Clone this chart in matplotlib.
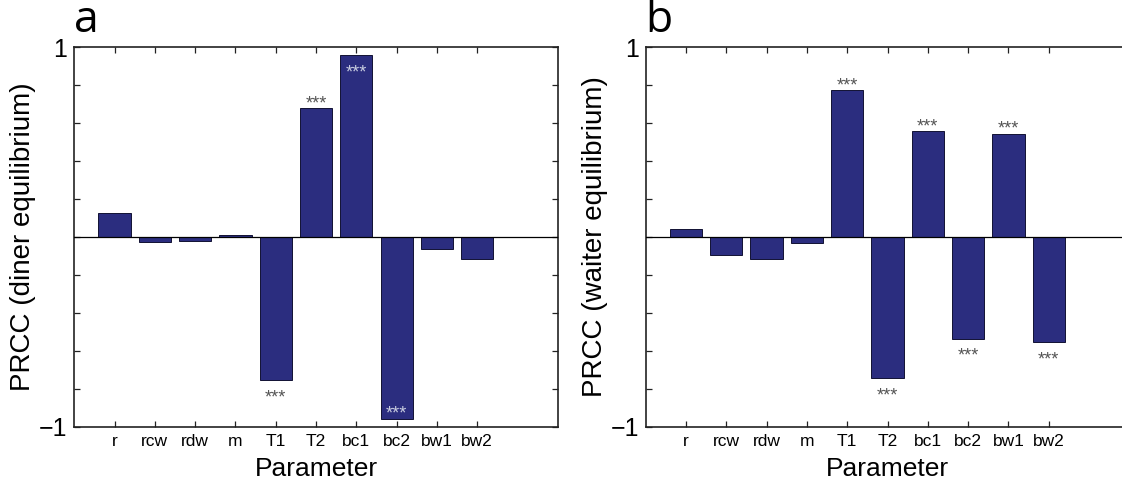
import numpy as np
import matplotlib
matplotlib.use("Agg")
import matplotlib.pyplot as plt

plt.rcParams["font.family"] = ["Liberation Sans", "DejaVu Sans"]

# -------------------------
# Daten
# -------------------------
params = ["r", "rcw", "rdw", "m", "T1", "T2", "bc1", "bc2", "bw1", "bw2"]

prcc_diner = [0.125, -0.025, -0.02, 0.01, -0.756, 0.68, 0.958, -0.959, -0.065, -0.118]
prcc_waiter = [0.044, -0.094, -0.117, -0.03, 0.775, -0.743, 0.558, -0.535, 0.545, -0.553]

sig_diner = [False, False, False, False, True, True, True, True, False, False]
sig_waiter = [False, False, False, False, True, True, True, True, True, True]

panels = [
    ("a", prcc_diner, sig_diner, "PRCC (diner equilibrium)"),
    ("b", prcc_waiter, sig_waiter, "PRCC (waiter equilibrium)"),
]

BAR_COLOR = "#2b2d7f"

fig = plt.figure(figsize=(11.22, 4.82), dpi=100, facecolor="white")
positions = [
    [0.0662, 0.1147, 0.431, 0.787],
    [0.5755, 0.1147, 0.431, 0.787],
]

x = np.arange(1, len(params) + 1)

for i, (pos, (letter, vals, sig, ylabel)) in enumerate(zip(positions, panels)):
    ax = fig.add_axes(pos)
    ax.bar(x, vals, width=0.8, color=BAR_COLOR, edgecolor="#111133", linewidth=0.7, zorder=2)
    ax.axhline(0, color="black", linewidth=0.9, zorder=3)

    # Sternchen fuer Signifikanz
    for xi, v, s in zip(x, vals, sig):
        if not s:
            continue
        inside = abs(v) > 0.85
        up = (v > 0) != inside
        off = 0 if up else -16
        col = "#c8cce0" if inside else "#555555"
        ax.annotate("***", xy=(xi, v), xytext=(0, off), textcoords="offset points",
                    ha="center", va="baseline", fontsize=13, color=col, zorder=4)

    ax.set_xlim(0, 12)
    ax.set_ylim(-1, 1)
    ax.set_xticks(x)
    ax.set_xticklabels(params, fontsize=12.5)
    yt = np.round(np.arange(-1, 1.01, 0.2), 1)
    ax.set_yticks(yt)
    ax.set_yticklabels(["\u22121" if t == -1 else ("1" if t == 1 else "") for t in yt], fontsize=18)
    ax.tick_params(direction="in", length=4, width=0.9, top=True, right=(i == 0), color="#222222")
    ax.tick_params(axis="x", pad=5)
    ax.tick_params(axis="y", pad=5)
    for sp in ax.spines.values():
        sp.set_linewidth(1.2)
        sp.set_color("#222222")
    if i == 1:
        ax.spines["right"].set_visible(False)

    ax.set_xlabel("Parameter", fontsize=19, labelpad=6)
    ax.set_ylabel(ylabel, fontsize=20)
    ax.yaxis.set_label_coords(-0.079, 0.5)

    ax.text(0.0, 1.012, letter, transform=ax.transAxes, ha="left", va="bottom",
            fontsize=32, family=["Open Sans", "DejaVu Sans"])

plt.savefig("out.png", dpi=100, facecolor="white")
